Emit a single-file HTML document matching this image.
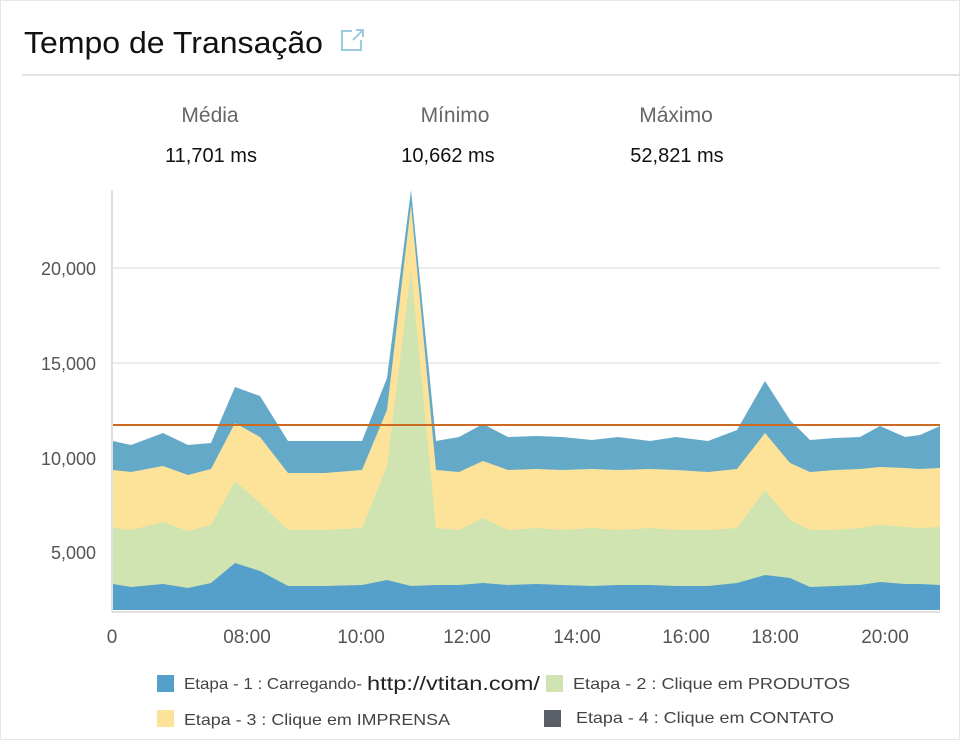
<!DOCTYPE html>
<html><head><meta charset="utf-8"><style>
body{margin:0;width:960px;height:740px;background:#fff;font-family:"Liberation Sans",sans-serif;overflow:hidden}
</style></head><body>
<svg width="960" height="740" xmlns="http://www.w3.org/2000/svg" font-family="Liberation Sans, sans-serif">
<rect x="0.5" y="0.5" width="959" height="739" fill="#fff" stroke="#e6e6e6"/>
<text x="24" y="53" font-size="31" fill="#111" textLength="299" lengthAdjust="spacingAndGlyphs">Tempo de Transação</text>
<g stroke="#9ccbe0" stroke-width="2" fill="none"><path d="M352 31h-10v19h19v-10"/><path d="M353 40l9-9M356 30h7v7"/></g>
<line x1="22" y1="75" x2="960" y2="75" stroke="#e3e3e3" stroke-width="2"/>
<g font-size="21" fill="#666" text-anchor="middle"><text x="210" y="122">Média</text><text x="455" y="122">Mínimo</text><text x="676" y="122">Máximo</text></g>
<g font-size="20" fill="#111" text-anchor="middle"><text x="211" y="162">11,701 ms</text><text x="448" y="162">10,662 ms</text><text x="677" y="162">52,821 ms</text></g>
<g stroke="#e6e6e6" stroke-width="1.5"><line x1="112" y1="268" x2="940" y2="268"/><line x1="112" y1="363" x2="940" y2="363"/><line x1="112" y1="458" x2="940" y2="458"/><line x1="112" y1="552" x2="940" y2="552"/></g>
<g font-size="18" fill="#555" text-anchor="end"><text x="96" y="275">20,000</text><text x="96" y="370">15,000</text><text x="96" y="465">10,000</text><text x="96" y="559">5,000</text></g>
<polygon fill="#64aac8" points="113,441 131,445 163,433 188,445 211,443 235,387 260,396 288,441 325,441 362,441 387,378 411,190 436,441 459,437 483,424 508,437 537,436 562,437 592,440 618,437 650,441 676,437 708,441 737,430 765,381 790,420 810,440 835,438 860,437 880,426 905,437 920,435 940,426 940,610 113,610"/>
<polygon fill="#fde39a" points="113,470 131,472 163,466 188,475 211,469 235,423 260,437 288,473 325,473 362,470 387,410 411,205 436,470 459,472 483,461 508,470 537,469 562,470 592,469 618,470 650,469 676,470 708,472 737,469 765,433 790,463 810,472 835,470 860,469 880,467 905,468 920,469 940,468 940,610 113,610"/>
<polygon fill="#cfe4b0" points="113,528 131,530 163,522 188,531 211,525 235,481 260,503 288,530 325,530 362,528 387,466 411,270 436,528 459,530 483,518 508,530 537,528 562,530 592,528 618,530 650,528 676,530 708,530 737,528 765,490 790,520 810,530 835,530 860,528 880,525 905,527 920,528 940,527 940,610 113,610"/>
<polygon fill="#559fcb" points="113,584 131,587 163,584 188,588 211,583 235,563 260,571 288,586 325,586 362,585 387,580 411,586 436,585 459,585 483,583 508,585 537,584 562,585 592,586 618,585 650,585 676,586 708,586 737,583 765,575 790,578 810,587 835,586 860,585 880,582 905,584 920,584 940,585 940,610 113,610"/>
<line x1="112" y1="425" x2="940" y2="425" stroke="#cc6a22" stroke-width="2"/>
<line x1="112" y1="190" x2="112" y2="612" stroke="#e0e0e0" stroke-width="2"/>
<line x1="112" y1="612" x2="940" y2="612" stroke="#e0e0e0" stroke-width="2"/>
<g font-size="19" fill="#555" text-anchor="middle"><text x="112" y="643">0</text><text x="247" y="643">08:00</text><text x="361" y="643">10:00</text><text x="467" y="643">12:00</text><text x="577" y="643">14:00</text><text x="686" y="643">16:00</text><text x="775" y="643">18:00</text><text x="885" y="643">20:00</text></g>
<g font-size="16" fill="#444">
<rect x="157" y="675" width="17" height="17" fill="#559fcb"/><text x="184" y="689" textLength="178" lengthAdjust="spacingAndGlyphs">Etapa - 1 : Carregando-</text><text x="367" y="690" font-size="19" fill="#222" textLength="173" lengthAdjust="spacingAndGlyphs">http://vtitan.com/</text>
<rect x="546" y="675" width="17" height="17" fill="#cfe4b0"/><text x="573" y="689" textLength="277" lengthAdjust="spacingAndGlyphs">Etapa - 2 : Clique em PRODUTOS</text>
<rect x="157" y="710" width="17" height="17" fill="#fde39a"/><text x="184" y="725" textLength="266" lengthAdjust="spacingAndGlyphs">Etapa - 3 : Clique em IMPRENSA</text>
<rect x="544" y="710" width="17" height="17" fill="#5a5e66"/><text x="576" y="723" textLength="258" lengthAdjust="spacingAndGlyphs">Etapa - 4 : Clique em CONTATO</text>
</g>
</svg>
</body></html>
